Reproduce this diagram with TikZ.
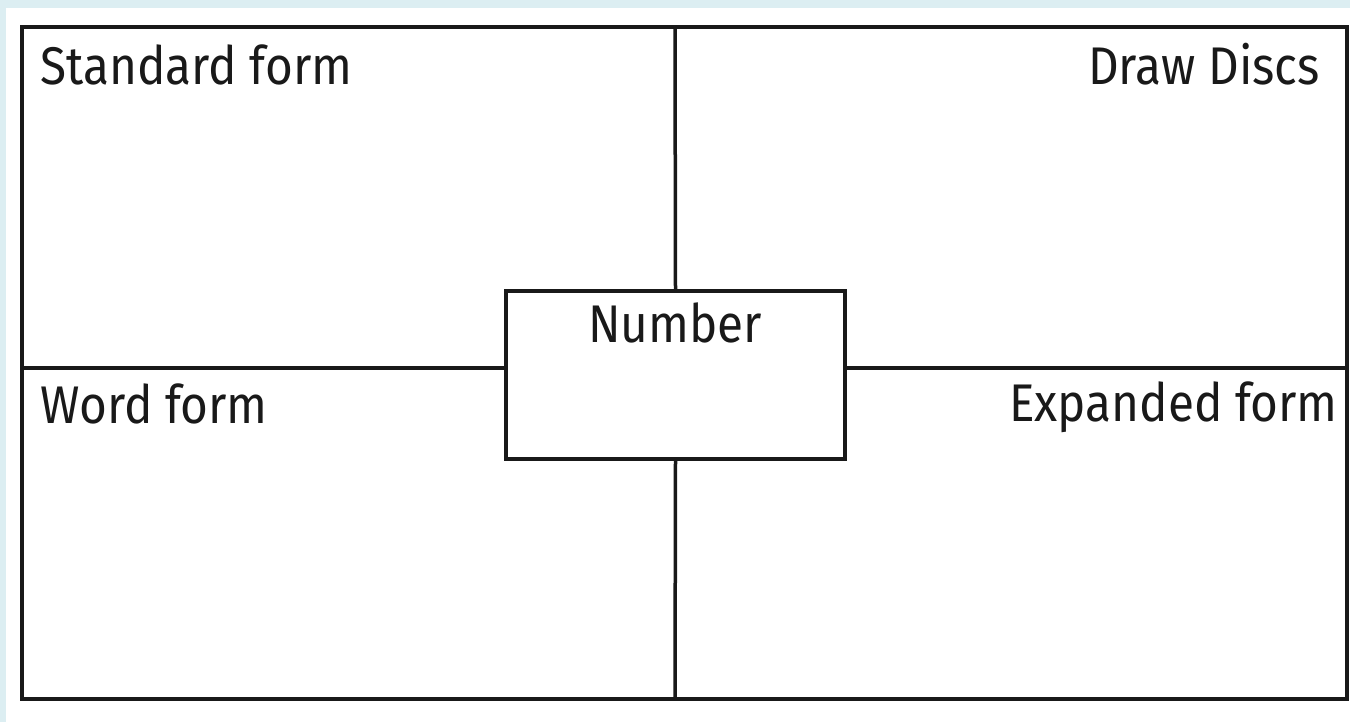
\documentclass[tikz,border=0pt]{standalone}
\usepackage{fontspec}
\setmainfont[FakeStretch=0.9]{Fira Sans}
\usetikzlibrary{positioning}

\definecolor{bgblue}{RGB}{220,238,242}
\definecolor{ink}{RGB}{25,25,25}

\tikzset{
  frame/.style={draw=ink, line width=3.5pt},
  labeltext/.style={font=\fontsize{53}{60}\selectfont, text=ink, inner sep=0pt}
}

\begin{document}
\begin{tikzpicture}[x=1pt, y=-1pt]

% Background
\fill[bgblue] (0, 0) rectangle (1350, 722);
\fill[white] (6, 8) rectangle (1350, 722);
\useasboundingbox (0, 0) rectangle (1350, 722);

% Outer frame
\coordinate (tl) at (22, 27);
\coordinate (br) at (1347, 699);
\coordinate (top) at (675, 27);
\coordinate (bottom) at (675, 699);
\coordinate (left) at (22, 368);
\coordinate (right) at (1347, 368);
\draw[frame] (tl) rectangle (br);

% Centre box
\node[frame, minimum width=339pt, minimum height=168pt] (number) at (675.5, 375) {};
\draw[frame] (top) -- (number.north);
\draw[frame] (number.south) -- (bottom);
\draw[frame] (left) -- (left -| number.west);
\draw[frame] (left -| number.east) -- (right);

% Labels
\node[labeltext, anchor=base west] (standard) at (40, 85) {Standard form};
\node[labeltext, anchor=base east] (discs) at (1320, 85) {Draw Discs};
\node[labeltext, anchor=base west] (word) at (40, 423) {Word form};
\node[labeltext, anchor=base east] (expanded) at (1338, 421) {Expanded form};
\node[labeltext, anchor=base] (numtext) at (675, 342) {Number};
\end{tikzpicture}
\end{document}
